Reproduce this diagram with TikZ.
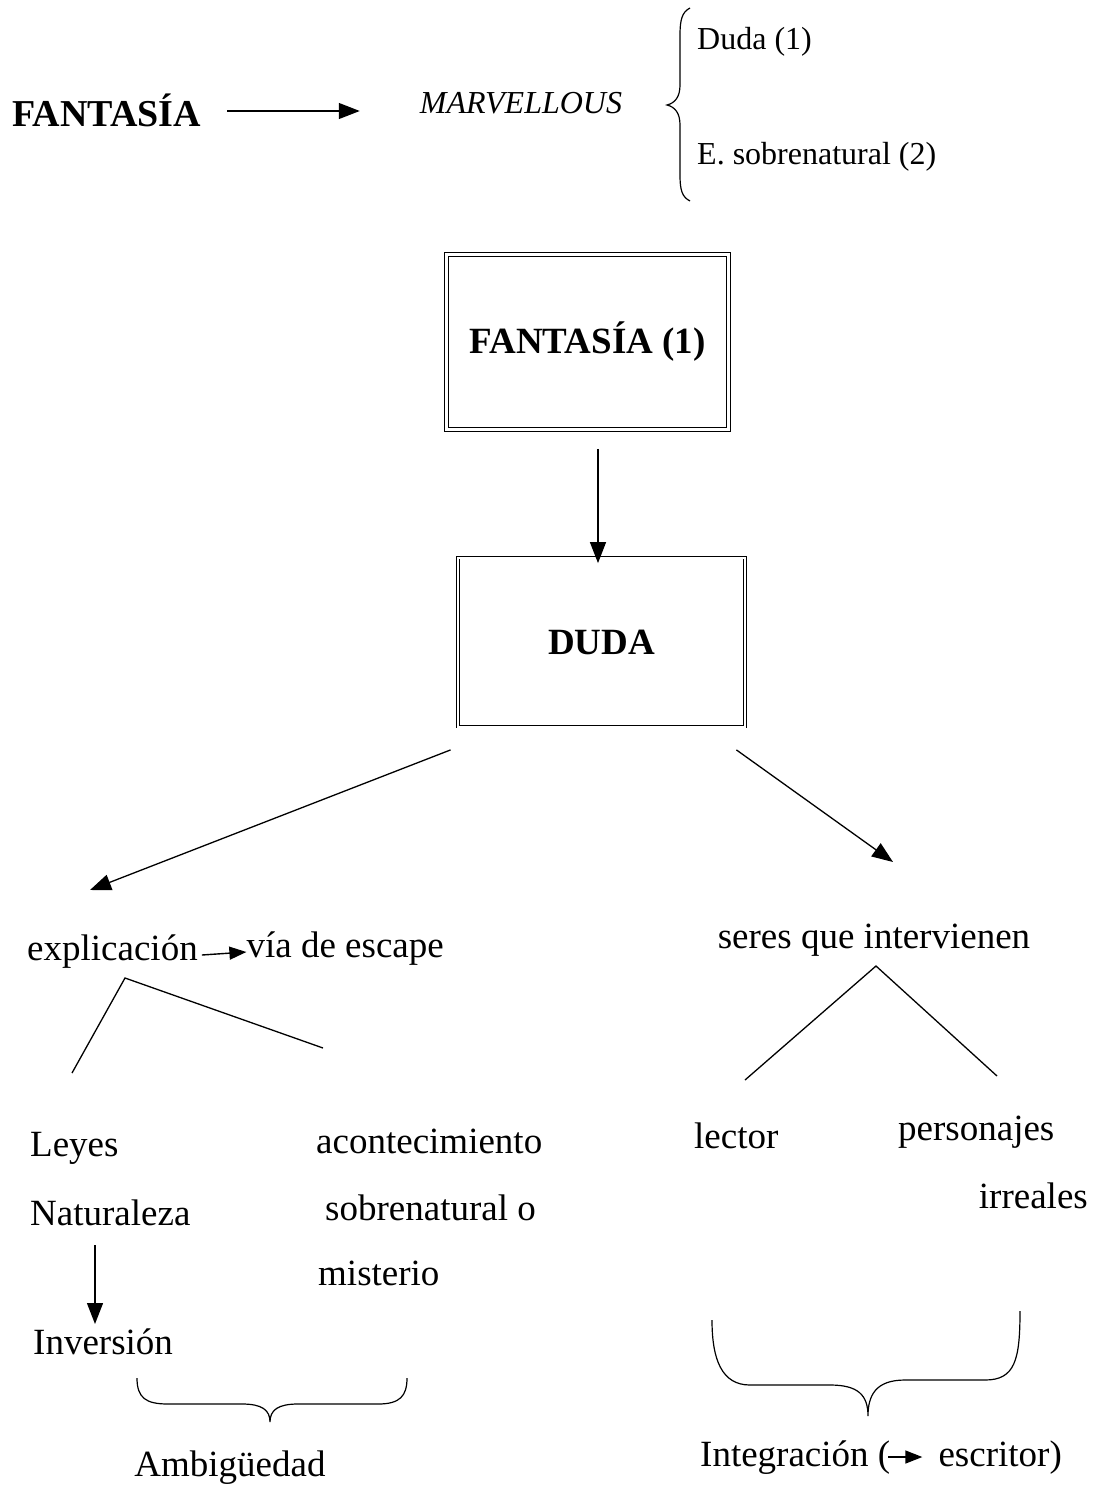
\documentclass[tikz,border=0pt]{standalone}
\usepackage{fontspec}
\setmainfont{Liberation Serif}
\usetikzlibrary{arrows.meta,calc}
\begin{document}
\begin{tikzpicture}[x=1pt,y=-1pt,
  txt/.style={font=\fontsize{37}{44}\selectfont, inner sep=0pt},
  toptxt/.style={font=\fontsize{32}{38}\selectfont, inner sep=0pt},
  bigtxt/.style={font=\fontsize{38}{45}\selectfont\bfseries, inner sep=0pt},
  arr/.style={-{Triangle[length=21pt,width=16pt]}, line width=1.3pt},
  smallarr/.style={-{Triangle[length=17pt,width=13pt]}, line width=1.4pt},
  ln/.style={line width=1.3pt},
  box1/.style={draw, double, double distance=2.5pt, line width=0.9pt, minimum width=282pt, minimum height=175pt, inner sep=0pt, font=\fontsize{37}{44}\selectfont\bfseries},
  box2/.style={draw, double, double distance=2pt, line width=0.8pt, minimum width=287pt, minimum height=169pt, inner sep=0pt, font=\fontsize{37}{44}\selectfont\bfseries}
]
\useasboundingbox (0,0) rectangle (1094,1490);
\fill[white] (0,0) rectangle (1094,1490);

% top row
\node[bigtxt, anchor=west] (fan) at (12,110) {FANTASÍA};
\node[toptxt, anchor=center] (marv) at (521,103) {\itshape MARVELLOUS};
\node[toptxt, anchor=west] (duda1) at (697,42) {Duda (1)};
\node[toptxt, anchor=west] (esob) at (697,157) {E. sobrenatural (2)};
\draw[arr] ($(fan.east)+(26,1)$) -- ($(marv.west)+(-60,8)$);
% top brace
\coordinate (bt) at (690,8);
\coordinate (btip) at (667,105);
\coordinate (bb) at (690,201);
\draw[line width=1.2pt] (bt) .. controls (682,12) and (680,20) .. (680,35) -- (680,85)
  .. controls (680,97) and (675,103) .. (btip)
  .. controls (675,107) and (680,113) .. (680,125) -- (680,175)
  .. controls (680,190) and (682,197) .. (bb);

% boxes
\node[box1] (b1) at (587.5,342) {\raisebox{-8pt}{FANTASÍA (1)}};
\node[box2] (b2) at (601.5,642) {\raisebox{-8pt}{DUDA}};
\draw[arr] ($(b1.south)+(10.5,19)$) -- ($(b2.north)+(-3.5,6)$);

% branches from DUDA
\coordinate (lend) at (90,890);
\coordinate (rend) at (893,862);
\draw[arr] ($(b2.south west)+(-7,23)$) -- (lend);
\draw[arr] ($(b2.south east)+(-9,23)$) -- (rend);

% left branch
\node[txt, anchor=west] (expl) at (27,952) {explicación};
\node[txt, anchor=east] (via) at (444,949) {vía de escape};
\draw[smallarr] ($(expl.east)+(4,3)$) -- ($(via.west)+(0,3)$);
\coordinate (lap) at (125,978);
\coordinate (ll) at (72,1073);
\coordinate (lr) at (323,1048);
\draw[ln] (ll) -- (lap) -- (lr);

\node[txt, anchor=west] (leyes) at (30,1148) {Leyes};
\node[txt, anchor=west] (nat) at (30,1213) {Naturaleza};
\node[txt, anchor=west] (inv) at (33,1342) {Inversión};
\draw[arr] (95,1245) coordinate (na) -- (95,1324) coordinate (nb);
\node[txt, anchor=west] (acon) at (316,1141) {acontecimiento};
\node[txt, anchor=west] (sobr) at (325,1208) {sobrenatural o};
\node[txt, anchor=west] (mist) at (318,1273) {misterio};

% bottom-left brace
\coordinate (l1) at (137,1378);
\coordinate (l2) at (407,1378);
\coordinate (ltip) at (270,1422);
\draw[line width=1.2pt] (l1) .. controls (137,1398) and (146,1404) .. (168,1404) -- (242,1404)
  .. controls (262,1404) and (270,1410) .. (ltip)
  .. controls (270,1410) and (278,1404) .. (298,1404) -- (378,1404)
  .. controls (400,1404) and (407,1396) .. (l2);
\node[txt] (amb) at (230,1468) {Ambigüedad};

% right branch
\node[txt] (seres) at (874,940) {seres que intervienen};
\coordinate (rap) at (876,966);
\coordinate (rl) at (745,1080);
\coordinate (rr) at (997,1076);
\draw[ln] (rl) -- (rap) -- (rr);
\node[txt, anchor=west] (lect) at (694,1136) {lector};
\node[txt, anchor=west] (pers) at (898,1132) {personajes};
\node[txt, anchor=east] (irr) at (1088,1196) {irreales};

% bottom-right brace
\coordinate (r1) at (712,1320);
\coordinate (r2) at (1020,1311);
\coordinate (rtip) at (868,1416);
\draw[line width=1.2pt] (r1) .. controls (712,1360) and (722,1385) .. (750,1385) -- (830,1385)
  .. controls (858,1385) and (868,1395) .. (rtip)
  .. controls (868,1395) and (876,1380) .. (905,1380) -- (985,1380)
  .. controls (1015,1380) and (1020,1360) .. (r2);

\node[txt, anchor=west] (integ) at (700,1458) {Integración (};
\node[txt, anchor=east] (escr) at (1062,1458) {escritor)};
\draw[smallarr] ($(integ.east)+(-2,-1)$) -- ($(escr.west)+(-16,-1)$);
\end{tikzpicture}
\end{document}
